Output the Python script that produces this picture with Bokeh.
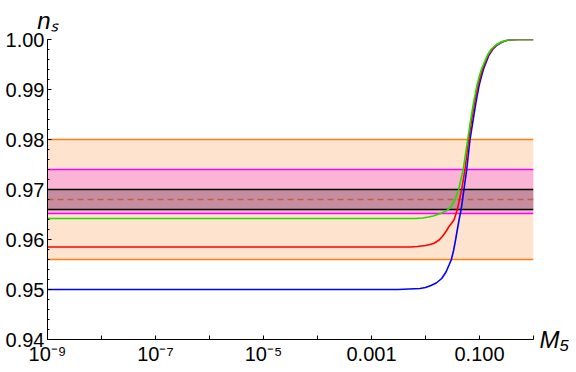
import json
from bokeh.plotting import figure
from bokeh.models import (Range1d, FixedTicker, PrintfTickFormatter, CustomJSTickFormatter,
                          LogAxis, LinearAxis)
from bokeh.embed import file_html
from bokeh.resources import INLINE

# ---- data ----
log_m_blue = [-9, -2.5, -2.3, -2.1, -2.0, -1.9, -1.8, -1.7, -1.62, -1.56, -1.521, -1.48, -1.442, -1.41,
              -1.377, -1.340, -1.288, -1.237, -1.176, -1.117, -1.065, -1.006, -0.96, -0.922, -0.824,
              -0.75, -0.672, -0.58, -0.468, -0.3, 0]
ns_blue = [0.9500, 0.9500, 0.9501, 0.9502, 0.9504, 0.9508, 0.9513, 0.9522, 0.9535, 0.9550, 0.9560,
           0.9578, 0.9600, 0.9620, 0.9640, 0.9660, 0.9700, 0.9740, 0.9800, 0.9840, 0.9875, 0.9909,
           0.9928, 0.9942, 0.9969, 0.9981, 0.9989, 0.9995, 0.9999, 1.0000, 1.0000]

log_m_red = [-9, -2.5, -2.276, -2.15, -1.998, -1.92, -1.85, -1.79, -1.738, -1.69, -1.646, -1.61,
             -1.571, -1.52, -1.469, -1.410, -1.330, -1.269, -1.200, -1.145, -1.089, -1.028, -0.98,
             -0.941, -0.839, -0.76, -0.686, -0.59, -0.477, -0.3, 0]
ns_red = [0.9585, 0.9585, 0.9585, 0.9586, 0.9588, 0.9590, 0.9592, 0.9596, 0.9600, 0.9606, 0.9612,
          0.9618, 0.9625, 0.9632, 0.9640, 0.9660, 0.9700, 0.9740, 0.9800, 0.9840, 0.9875, 0.9909,
          0.9928, 0.9942, 0.9969, 0.9981, 0.9989, 0.9995, 0.9999, 1.0000, 1.0000]

log_m_green = [-9, -2.4, -2.184, -2.05, -1.942, -1.86, -1.776, -1.72, -1.664, -1.62, -1.581, -1.54,
               -1.506, -1.48, -1.451, -1.386, -1.302, -1.219, -1.163, -1.108, -1.046, -1.0, -0.959,
               -0.853, -0.78, -0.699, -0.6, -0.482, -0.3, 0]
ns_green = [0.9642, 0.9642, 0.9642, 0.9643, 0.9645, 0.9647, 0.9650, 0.9652, 0.9655, 0.9657, 0.9660,
            0.9664, 0.9670, 0.9675, 0.9680, 0.9700, 0.9740, 0.9800, 0.9840, 0.9875, 0.9909, 0.9928,
            0.9942, 0.9969, 0.9981, 0.9989, 0.9995, 0.9999, 1.0000, 1.0000]

band_orange = [0.956, 0.980]
band_pink = [0.9652, 0.974]
band_black = [0.966, 0.970]
center_line = 0.968

x_tick_exps = [-9, -8, -7, -6, -5, -4, -3, -2, -1, 0]
x_tick_labels = ["10\u207b\u2079", "", "10\u207b\u2077", "", "10\u207b\u2075", "", "0.001", "", "0.100", ""]
y_ticks = [0.94, 0.95, 0.96, 0.97, 0.98, 0.99, 1.00]
y_minor = [0.94 + 0.002 * i for i in range(31)]
x_title = "M\u2085"
y_title = "n\u209b"

FONT = "Liberation Sans"

p = figure(width=576, height=372, x_axis_type="log", output_backend="svg", toolbar_location=None,
           x_range=Range1d(1e-9, 1), y_range=Range1d(0.94, 1.0),
           min_border_left=47, min_border_top=39, min_border_right=43, min_border_bottom=33)
p.outline_line_color = None
p.xgrid.visible = False
p.ygrid.visible = False
p.background_fill_color = "white"

# bands
p.hstrip(y0=[band_orange[0]], y1=[band_orange[1]], fill_color="#FEE4CE", line_color=None)
p.hstrip(y0=[band_pink[0]], y1=[band_pink[1]], fill_color="#FAB4D6", line_color=None)
p.hstrip(y0=[band_black[0]], y1=[band_black[1]], fill_color="#C68CA0", line_color=None)
p.hspan(y=band_orange, line_color="#FF8010", line_width=1.5)
p.hspan(y=band_pink, line_color="#FF00FF", line_width=1.5)
p.hspan(y=band_black, line_color="black", line_width=1.5)
p.hspan(y=[center_line], line_color="#C0603F", line_width=1.3, line_dash="6 4")

# curves
p.line([10 ** e for e in log_m_blue], ns_blue, line_color="#0000FF", line_width=1.6)
p.line([10 ** e for e in log_m_red], ns_red, line_color="#FF0000", line_width=1.6)
p.line([10 ** e for e in log_m_green], ns_green, line_color="#22DD00", line_width=1.6)

# axes
xa = p.xaxis[0]
xa.ticker = FixedTicker(ticks=[10.0 ** e for e in x_tick_exps], minor_ticks=[])
lab_map = {str(e): l for e, l in zip(x_tick_exps, x_tick_labels)}
xa.formatter = CustomJSTickFormatter(code="const m = %s; const e = Math.round(Math.log10(tick)); const s = m[String(e)]; return s === undefined ? '' : s;" % json.dumps(lab_map))
ya = p.yaxis[0]
ya.ticker = FixedTicker(ticks=y_ticks, minor_ticks=y_minor)
ya.formatter = PrintfTickFormatter(format="%.2f")
for ax in (xa, ya):
    ax.major_tick_in = 4
    ax.major_tick_out = 0
    ax.minor_tick_in = 2
    ax.minor_tick_out = 0
    ax.axis_line_color = "black"
    ax.major_tick_line_color = "black"
    ax.minor_tick_line_color = "black"
    ax.major_label_text_font = FONT
    ax.major_label_text_font_size = "20px"
    ax.major_label_text_color = "black"
    ax.major_label_standoff = 3

# axis titles placed as single tick labels at the axis ends
top_ax = LogAxis(ticker=FixedTicker(ticks=[1e-9], minor_ticks=[]),
                 formatter=CustomJSTickFormatter(code="return %s;" % json.dumps(y_title)))
right_ax = LinearAxis(ticker=FixedTicker(ticks=[0.94], minor_ticks=[]),
                      formatter=CustomJSTickFormatter(code="return %s;" % json.dumps(x_title)))
for ax, standoff in ((top_ax, 6), (right_ax, 6)):
    ax.axis_line_color = None
    ax.major_tick_line_color = None
    ax.minor_tick_line_color = None
    ax.major_tick_in = 0
    ax.major_tick_out = 0
    ax.major_label_standoff = standoff
    ax.major_label_text_font = FONT
    ax.major_label_text_font_style = "italic"
    ax.major_label_text_font_size = "24px"
    ax.major_label_text_color = "black"
p.add_layout(top_ax, "above")
p.add_layout(right_ax, "right")

open("out.html", "w").write(file_html(p, INLINE))
